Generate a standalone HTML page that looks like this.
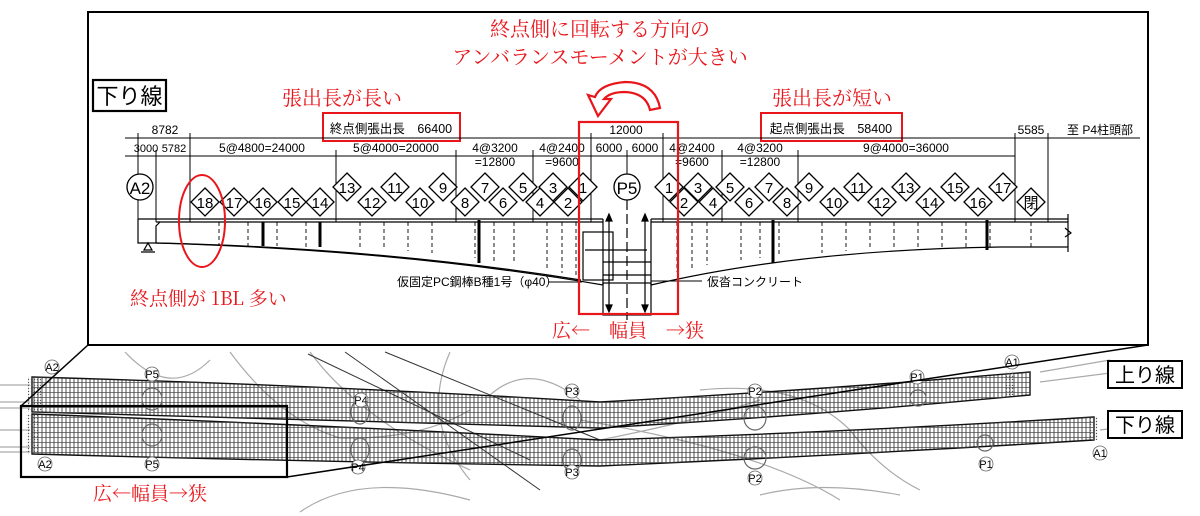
<!DOCTYPE html>
<html><head><meta charset="utf-8"><style>
html,body{margin:0;padding:0;background:#fff;width:1200px;height:516px;overflow:hidden}
svg{display:block}
text{font-family:"Liberation Sans","Noto Sans CJK JP",sans-serif;fill:#000}
.r{fill:#e8161b;font-family:"Noto Serif CJK SC","Liberation Serif",serif}
.d text{font-size:15px;text-anchor:middle}
</style></head><body>
<svg width="1200" height="516" viewBox="0 0 1200 516" xmlns="http://www.w3.org/2000/svg">
<defs>
<polygon id="dm" points="0,-14 14,0 0,14 -14,0" fill="#fff" stroke="#000" stroke-width="1.3"/>
<pattern id="vl" width="4" height="10" patternUnits="userSpaceOnUse"><line x1="2" y1="0" x2="2" y2="10" stroke="#222" stroke-width="0.8"/></pattern>
<pattern id="hl" width="10" height="5" patternUnits="userSpaceOnUse"><line x1="0" y1="2.5" x2="10" y2="2.5" stroke="#444" stroke-width="0.7"/></pattern>
<pattern id="dots" width="3" height="3" patternUnits="userSpaceOnUse"><circle cx="1.5" cy="1.5" r="0.7" fill="#555"/></pattern>
</defs>

<!-- ===== PLAN (bottom) ===== -->
<g fill="none" stroke="#aaa" stroke-width="1.2">
<path d="M125,352 Q170,400 210,360"/>
<path d="M230,352 Q280,420 340,438 Q420,440 470,410"/>
<path d="M310,352 Q360,420 470,470"/>
<path d="M450,352 Q420,420 470,480"/>
<path d="M490,395 Q530,360 580,400"/>
<path d="M700,390 Q800,380 850,430 Q880,470 920,490"/>
<path d="M580,420 Q760,450 840,500"/>
<path d="M760,495 Q820,480 900,495"/>
<path d="M300,512 Q360,470 470,500"/>
<path d="M600,440 Q700,420 760,400"/>
<path d="M0,385 L30,385 M0,402 L30,402 M0,408 L30,408 M0,430 L30,430 M0,447 L30,447 M0,452 L30,452"/>
<path d="M1040,372 L1110,360 M1040,382 L1110,373 M1100,430 L1115,428"/>
</g>
<g stroke="#333" stroke-width="1" fill="none">
<line x1="308" y1="354" x2="530" y2="460"/>
<line x1="345" y1="352" x2="540" y2="490"/>
<line x1="385" y1="352" x2="600" y2="440"/>
</g>
<path d="M32,377 Q320,385 600,402 Q820,390 1030,372 L1030,395 Q820,415 600,428 Q320,420 32,412 Z" fill="url(#vl)" stroke="#111" stroke-width="1.4"/>
<path d="M32,377 Q320,385 600,402 Q820,390 1030,372 L1030,395 Q820,415 600,428 Q320,420 32,412 Z" fill="url(#hl)" stroke="none"/>
<path d="M32,414 Q320,425 600,440 Q850,432 1094,417 L1094,440 Q850,455 600,466 Q320,462 32,454 Z" fill="url(#vl)" stroke="#111" stroke-width="1.4"/>
<path d="M32,414 Q320,425 600,440 Q850,432 1094,417 L1094,440 Q850,455 600,466 Q320,462 32,454 Z" fill="url(#hl)" stroke="none"/>
<rect x="28" y="377" width="13" height="35" fill="url(#dots)"/>
<rect x="26" y="414" width="13" height="40" fill="url(#dots)"/>
<rect x="1005" y="371" width="10" height="24" fill="url(#dots)"/>
<rect x="1090" y="417" width="8" height="23" fill="url(#dots)"/>
<g fill="none" stroke="#666" stroke-width="1.2">
<ellipse cx="152" cy="399" rx="10" ry="11"/><ellipse cx="152" cy="435" rx="10" ry="11"/>
<ellipse cx="360" cy="412" rx="9" ry="12"/><ellipse cx="360" cy="450" rx="9" ry="12"/>
<ellipse cx="572" cy="418" rx="9" ry="12"/><ellipse cx="572" cy="460" rx="9" ry="11"/>
<ellipse cx="755" cy="418" rx="11" ry="12"/><ellipse cx="755" cy="458" rx="11" ry="11"/>
<ellipse cx="918" cy="398" rx="8" ry="8"/><ellipse cx="985" cy="443" rx="8" ry="8"/>
</g>
<g font-size="11" text-anchor="middle">
<g fill="#fff" stroke="#666" stroke-width="0.8">
<circle cx="52" cy="367" r="7"/><circle cx="45" cy="464" r="7"/><circle cx="152" cy="374" r="7"/><circle cx="152" cy="464" r="7"/>
<circle cx="361" cy="400" r="7"/><circle cx="358" cy="467" r="7"/><circle cx="572" cy="391" r="7"/><circle cx="572" cy="472" r="7"/>
<circle cx="755" cy="391" r="7"/><circle cx="755" cy="478" r="7"/><circle cx="917" cy="377" r="7"/><circle cx="986" cy="464" r="7"/>
<circle cx="1012" cy="362" r="7"/><circle cx="1100" cy="453" r="7"/>
</g>
<text x="52" y="371">A2</text><text x="45" y="468">A2</text><text x="152" y="378">P5</text><text x="152" y="468">P5</text>
<text x="361" y="404">P4</text><text x="358" y="471">P4</text><text x="572" y="395">P3</text><text x="572" y="476">P3</text>
<text x="755" y="395">P2</text><text x="755" y="482">P2</text><text x="917" y="381">P1</text><text x="986" y="468">P1</text>
<text x="1012" y="366">A1</text><text x="1100" y="457">A1</text>
</g>
<rect x="21" y="406" width="266" height="71" fill="none" stroke="#000" stroke-width="2.2"/>
<line x1="88" y1="345" x2="21" y2="406" stroke="#000" stroke-width="1.5"/>
<line x1="1148" y1="345" x2="287" y2="477" stroke="#000" stroke-width="1.5"/>
<rect x="1108" y="361" width="74" height="27" fill="#fff" stroke="#000" stroke-width="2"/>
<text x="1145" y="382" font-size="20" text-anchor="middle">上り線</text>
<rect x="1108" y="411" width="74" height="27" fill="#fff" stroke="#000" stroke-width="2"/>
<text x="1145" y="432" font-size="20" text-anchor="middle">下り線</text>
<text class="r" x="150" y="500" font-size="19" text-anchor="middle">広←幅員→狭</text>

<!-- ===== ELEVATION FRAME ===== -->
<rect x="88" y="12" width="1060" height="333" fill="#fff" stroke="#000" stroke-width="2"/>
<rect x="93" y="80" width="73" height="31" fill="none" stroke="#000" stroke-width="2.2"/>
<text x="129.5" y="104" font-size="22" text-anchor="middle">下り線</text>

<text class="r" x="600" y="36" font-size="20" text-anchor="middle">終点側に回転する方向の</text>
<text class="r" x="600" y="64" font-size="20" text-anchor="middle">アンバランスモーメントが大きい</text>
<text class="r" x="342" y="105" font-size="20" text-anchor="middle">張出長が長い</text>
<text class="r" x="832" y="105" font-size="20" text-anchor="middle">張出長が短い</text>
<path d="M660,108 Q655,82 625,82 Q600,84 595,97 L588,95 L598,116 L611,99 L604,99 Q610,92 625,92 Q646,93 650,110 Z" fill="#fff" stroke="#e8161b" stroke-width="2.2"/>

<rect x="323" y="113" width="137" height="28" fill="none" stroke="#e8161b" stroke-width="2"/>
<text x="391" y="133" font-size="12.5" text-anchor="middle">終点側張出長　66400</text>
<rect x="761" y="113" width="141" height="28" fill="none" stroke="#e8161b" stroke-width="2"/>
<text x="831" y="133" font-size="12.5" text-anchor="middle">起点側張出長　58400</text>

<g stroke="#000" stroke-width="1">
<line x1="125" y1="138" x2="1140" y2="138"/>
<line x1="125" y1="156" x2="1015" y2="156"/>
<line x1="138" y1="133" x2="138" y2="240"/><line x1="156" y1="150" x2="156" y2="222"/>
<line x1="190" y1="133" x2="190" y2="222"/><line x1="336" y1="150" x2="336" y2="222"/>
<line x1="456" y1="150" x2="456" y2="222"/><line x1="533" y1="150" x2="533" y2="222"/>
<line x1="591" y1="133" x2="591" y2="222"/><line x1="663" y1="133" x2="663" y2="222"/>
<line x1="722" y1="150" x2="722" y2="222"/><line x1="798" y1="150" x2="798" y2="222"/>
<line x1="1015" y1="133" x2="1015" y2="222"/><line x1="1048" y1="133" x2="1048" y2="222"/>
<line x1="627" y1="150" x2="627" y2="175"/>
</g>
<g font-size="12" text-anchor="middle">
<text x="165" y="134">8782</text>
<text x="146" y="152" font-size="11">3000</text><text x="174" y="152" font-size="11">5782</text>
<text x="262" y="152">5@4800=24000</text>
<text x="396" y="152">5@4000=20000</text>
<text x="495" y="152">4@3200</text><text x="495" y="166">=12800</text>
<text x="562" y="152">4@2400</text><text x="562" y="166">=9600</text>
<text x="626" y="134">12000</text>
<text x="609" y="152">6000</text><text x="645" y="152">6000</text>
<text x="692" y="152">4@2400</text><text x="692" y="166">=9600</text>
<text x="760" y="152">4@3200</text><text x="760" y="166">=12800</text>
<text x="906" y="152">9@4000=36000</text>
<text x="1031" y="134">5585</text>
<text x="1100" y="134">至 P4柱頭部</text>
</g>

<g fill="none" stroke="#000" stroke-width="1.2">
<path d="M138,219 L603,219"/><path d="M156,222 L603,222"/>
<path d="M138,219 L138,243 L156,243 Q400,250 603,285"/>
<path d="M160,222 L156,226 L156,243"/>
<path d="M156,243 Q380,248 581,280"/>
<path d="M603,219 L603,285"/>
<path d="M651,219 L1068,219"/><path d="M651,222 L1068,222"/>
<path d="M651,285 Q800,250 1000,247 L1068,247"/>
<path d="M651,219 L651,285"/>
<path d="M1068,214 L1068,252 M1065,228 L1071,233 L1065,237"/>
<rect x="603" y="283" width="48" height="32"/>
<rect x="583" y="232" width="30" height="48"/>
<line x1="585" y1="250" x2="647" y2="250"/><line x1="603" y1="262" x2="651" y2="262"/>
<line x1="603" y1="275" x2="651" y2="275"/>
<line x1="609" y1="215" x2="609" y2="310"/><line x1="645" y1="215" x2="645" y2="310"/>
<line x1="627" y1="200" x2="627" y2="320" stroke-dasharray="10,4"/>
<path d="M606,221 L609,214 L612,221 Z M642,221 L645,214 L648,221 Z M606,305 L609,312 L612,305 Z M642,305 L645,312 L648,305 Z" fill="#000"/>
<path d="M144,250 L148,243 L152,250 Z M141,252 L155,252"/>
</g>
<g stroke="#000" stroke-width="0.9" stroke-dasharray="4,3">
<line x1="219" y1="222" x2="219" y2="245"/><line x1="248" y1="222" x2="248" y2="246"/><line x1="277" y1="222" x2="277" y2="246"/><line x1="306" y1="222" x2="306" y2="247"/>
<line x1="360" y1="222" x2="360" y2="248"/><line x1="384" y1="222" x2="384" y2="249"/><line x1="408" y1="222" x2="408" y2="251"/><line x1="432" y1="222" x2="432" y2="253"/>
<line x1="475" y1="222" x2="475" y2="258"/><line x1="494" y1="222" x2="494" y2="261"/><line x1="514" y1="222" x2="514" y2="264"/>
<line x1="547" y1="222" x2="547" y2="270"/><line x1="562" y1="222" x2="562" y2="273"/><line x1="576" y1="222" x2="576" y2="276"/>
<line x1="677" y1="222" x2="677" y2="272"/><line x1="692" y1="222" x2="692" y2="268"/><line x1="707" y1="222" x2="707" y2="265"/>
<line x1="741" y1="222" x2="741" y2="260"/><line x1="760" y1="222" x2="760" y2="258"/><line x1="779" y1="222" x2="779" y2="256"/>
<line x1="822" y1="222" x2="822" y2="253"/><line x1="846" y1="222" x2="846" y2="251"/><line x1="870" y1="222" x2="870" y2="250"/><line x1="894" y1="222" x2="894" y2="249"/><line x1="918" y1="222" x2="918" y2="248"/><line x1="942" y1="222" x2="942" y2="247"/><line x1="966" y1="222" x2="966" y2="247"/><line x1="990" y1="222" x2="990" y2="247"/>
<line x1="1031" y1="222" x2="1031" y2="247"/>
</g>
<g stroke="#000" stroke-width="3">
<line x1="263" y1="222" x2="263" y2="246"/><line x1="320" y1="222" x2="320" y2="247"/>
<line x1="479" y1="220" x2="479" y2="263"/><line x1="773" y1="220" x2="773" y2="263"/><line x1="987" y1="220" x2="987" y2="250"/>
</g>

<circle cx="140" cy="187" r="13" fill="#fff" stroke="#000" stroke-width="1.3"/>
<text x="140" y="194" font-size="17" text-anchor="middle">A2</text>
<circle cx="627" cy="187" r="13" fill="#fff" stroke="#000" stroke-width="1.3"/>
<text x="627" y="194" font-size="17" text-anchor="middle">P5</text>

<g class="d">
<g transform="translate(205,202)"><use href="#dm"/><text y="6">18</text></g>
<g transform="translate(234,202)"><use href="#dm"/><text y="6">17</text></g>
<g transform="translate(263,202)"><use href="#dm"/><text y="6">16</text></g>
<g transform="translate(292,202)"><use href="#dm"/><text y="6">15</text></g>
<g transform="translate(320,202)"><use href="#dm"/><text y="6">14</text></g>
<g transform="translate(347,187)"><use href="#dm"/><text y="6">13</text></g>
<g transform="translate(372,202)"><use href="#dm"/><text y="6">12</text></g>
<g transform="translate(395,187)"><use href="#dm"/><text y="6">11</text></g>
<g transform="translate(420,202)"><use href="#dm"/><text y="6">10</text></g>
<g transform="translate(443,187)"><use href="#dm"/><text y="6">9</text></g>
<g transform="translate(465,202)"><use href="#dm"/><text y="6">8</text></g>
<g transform="translate(485,187)"><use href="#dm"/><text y="6">7</text></g>
<g transform="translate(503,202)"><use href="#dm"/><text y="6">6</text></g>
<g transform="translate(523,187)"><use href="#dm"/><text y="6">5</text></g>
<g transform="translate(540,202)"><use href="#dm"/><text y="6">4</text></g>
<g transform="translate(568,202)"><use href="#dm"/><text y="6">2</text></g>
<g transform="translate(553,187)"><use href="#dm"/><text y="6">3</text></g>
<g transform="translate(583,187)"><use href="#dm"/><text y="6">1</text></g>
<g transform="translate(669,187)"><use href="#dm"/><text y="6">1</text></g>
<g transform="translate(684,202)"><use href="#dm"/><text y="6">2</text></g>
<g transform="translate(713,202)"><use href="#dm"/><text y="6">4</text></g>
<g transform="translate(698,187)"><use href="#dm"/><text y="6">3</text></g>
<g transform="translate(730,187)"><use href="#dm"/><text y="6">5</text></g>
<g transform="translate(749,202)"><use href="#dm"/><text y="6">6</text></g>
<g transform="translate(769,187)"><use href="#dm"/><text y="6">7</text></g>
<g transform="translate(787,202)"><use href="#dm"/><text y="6">8</text></g>
<g transform="translate(809,187)"><use href="#dm"/><text y="6">9</text></g>
<g transform="translate(834,202)"><use href="#dm"/><text y="6">10</text></g>
<g transform="translate(858,187)"><use href="#dm"/><text y="6">11</text></g>
<g transform="translate(882,202)"><use href="#dm"/><text y="6">12</text></g>
<g transform="translate(906,187)"><use href="#dm"/><text y="6">13</text></g>
<g transform="translate(930,202)"><use href="#dm"/><text y="6">14</text></g>
<g transform="translate(955,187)"><use href="#dm"/><text y="6">15</text></g>
<g transform="translate(978,202)"><use href="#dm"/><text y="6">16</text></g>
<g transform="translate(1003,187)"><use href="#dm"/><text y="6">17</text></g>
<g transform="translate(1031,202)"><use href="#dm"/><text y="6" font-size="14">閉</text></g>
</g>

<text x="397" y="286" font-size="12">仮固定PC鋼棒B種1号（φ40）</text>
<line x1="548" y1="282" x2="582" y2="282" stroke="#000" stroke-width="1"/>
<line x1="651" y1="281" x2="702" y2="281" stroke="#000" stroke-width="1"/>
<text x="707" y="286" font-size="12">仮沓コンクリート</text>

<rect x="579" y="122" width="99" height="192" fill="none" stroke="#e8161b" stroke-width="2.2"/>
<ellipse cx="202" cy="221" rx="23" ry="46" fill="none" stroke="#e8161b" stroke-width="2"/>
<text class="r" x="130" y="305" font-size="19">終点側が 1BL 多い</text>
<text class="r" x="628" y="337" font-size="19" text-anchor="middle">広←　幅員　→狭</text>
</svg>
</body></html>
